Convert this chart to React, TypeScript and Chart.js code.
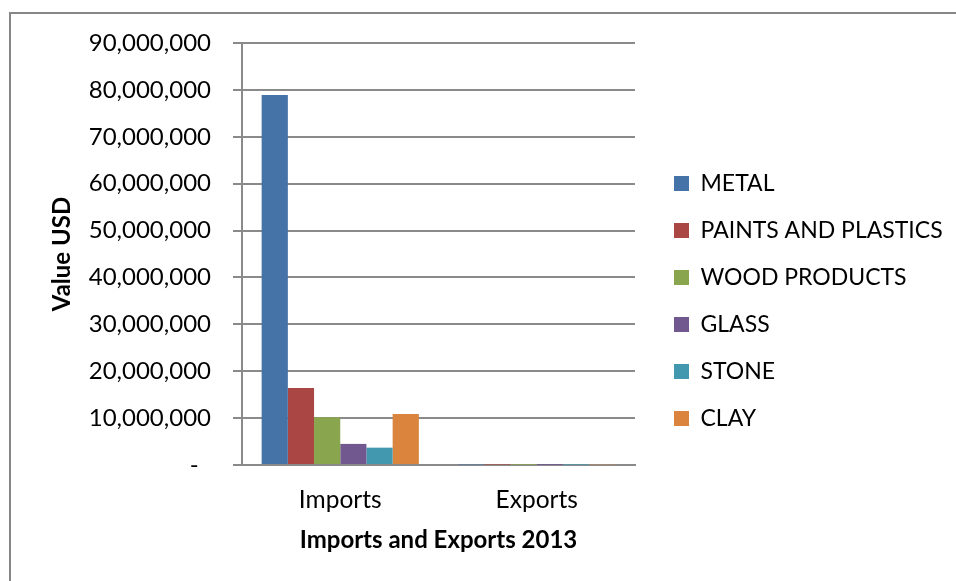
import { useEffect, useRef } from "react";
import { Chart, registerables } from "chart.js";

Chart.register(...registerables);

const categories = ["Imports", "Exports"];
const seriesNames = ["METAL", "PAINTS AND PLASTICS", "WOOD PRODUCTS", "GLASS", "STONE", "CLAY"];
const metal = [78900000, 120000];
const paints = [16400000, 90000];
const wood = [10200000, 60000];
const glass = [4500000, 30000];
const stone = [3700000, 80000];
const clay = [10900000, 150000];
const seriesValues = [metal, paints, wood, glass, stone, clay];
const seriesColors = ["#4572A7", "#AA4643", "#89A54E", "#71588F", "#4198AF", "#DB843D"];
const yMin = 0;
const yMax = 90000000;
const yStep = 10000000;
const yTitle = "Value USD";
const xTitle = "Imports and Exports 2013";

const FONT = "Lato";
const GRID = "#8a8a8a";

export default function App() {
  const ref = useRef<HTMLCanvasElement | null>(null);

  useEffect(() => {
    if (!ref.current) return;
    const legendTweak = {
      id: "legendTweak",
      beforeUpdate(chart: any) {
        const lg = chart.legend;
        if (lg && !lg._patched) {
          const orig = lg.fit.bind(lg);
          lg.fit = function () {
            orig();
            this.width = 956 - 635;
          };
          lg._patched = true;
        }
      },
      afterLayout(chart: any) {
        const lg = chart.legend;
        if (lg) {
          lg.left += 15;
          lg.right += 15;
          lg.top += 2;
          lg.bottom += 2;
        }
      },
    };
    const chart = new Chart(ref.current, {
      type: "bar",
      data: {
        labels: categories,
        datasets: seriesNames.map((name, i) => ({
          label: name,
          data: seriesValues[i],
          backgroundColor: seriesColors[i],
          borderWidth: 0,
          categoryPercentage: 0.8,
          barPercentage: 1.0,
        })),
      },
      options: {
        animation: false,
        responsive: false,
        layout: { padding: { left: 48, top: 43, bottom: 26, right: 0 } },
        plugins: {
          tooltip: { enabled: false },
          legend: {
            position: "right",
            labels: {
              boxWidth: 15,
              boxHeight: 15,
              padding: 24,
              color: "#000",
              font: { family: FONT, size: 23 },
            },
          },
        },
        scales: {
          x: {
            grid: { display: false, drawTicks: false },
            border: { display: true, color: GRID, width: 2 },
            ticks: { color: "#000", padding: 20, font: { family: FONT, size: 24.5 } },
            title: {
              display: true,
              text: xTitle,
              color: "#000",
              padding: { top: 0, bottom: 0 },
              font: { family: FONT, size: 24, weight: "bold" },
            },
            afterFit(scale: any) {
              scale.height = 90;
            },
          },
          y: {
            min: yMin,
            max: yMax,
            ticks: {
              stepSize: yStep,
              color: "#000",
              padding: 22,
              font: { family: FONT, size: 24 },
              callback: (v: any) => (Number(v) === 0 ? "-  " : Number(v).toLocaleString("en-US")),
            },
            grid: { color: GRID, lineWidth: 2, tickLength: 9 },
            border: { display: true, color: GRID, width: 2 },
            title: {
              display: true,
              text: yTitle,
              color: "#000",
              padding: { top: 0, bottom: 0 },
              font: { family: FONT, size: 24, weight: "bold" },
            },
            afterFit(scale: any) {
              scale.width = 194;
            },
          },
        },
      },
      plugins: [legendTweak],
    });
    return () => chart.destroy();
  }, []);

  return (
    <div style={{ position: "absolute", left: 0, top: 0, width: 956, height: 581, background: "#fff", overflow: "hidden" }}>
      <div
        style={{
          position: "absolute",
          left: 9,
          top: 12,
          width: 1000,
          height: 1000,
          borderLeft: "2px solid #878787",
          borderTop: "2px solid #878787",
          boxSizing: "border-box",
        }}
      />
      <canvas ref={ref} width={956} height={581} style={{ position: "absolute", left: 0, top: 0 }} />
    </div>
  );
}
